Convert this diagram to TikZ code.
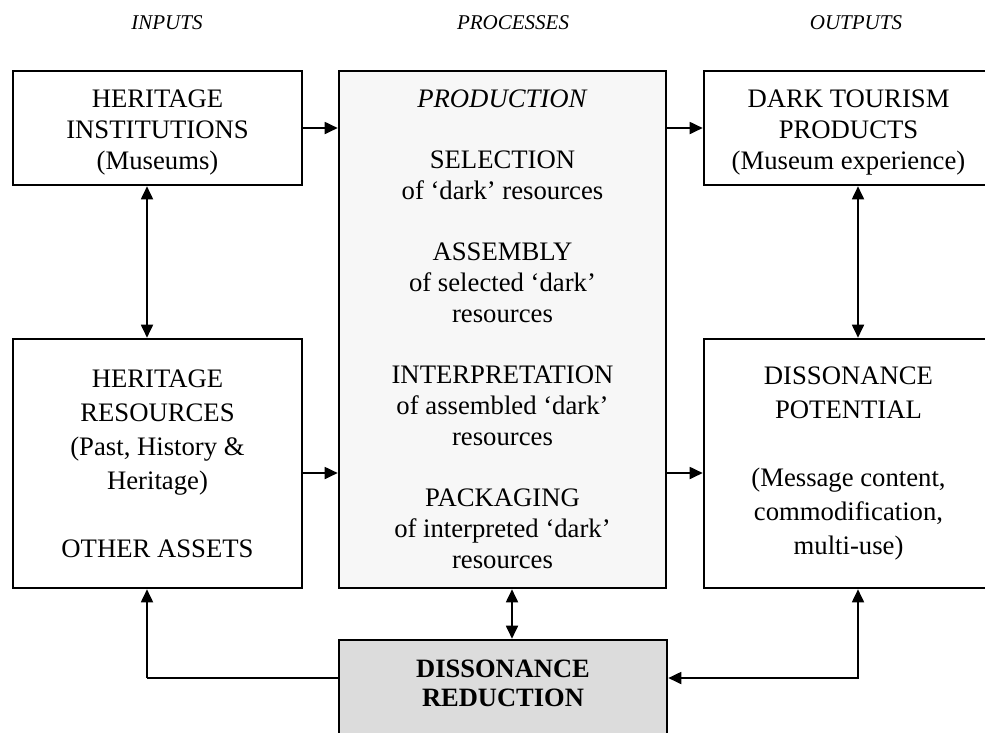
\documentclass[tikz,border=0pt]{standalone}
\usepackage{fontspec}
\setmainfont{Liberation Serif}
\usepackage{tikz}
\usetikzlibrary{positioning, calc, arrows.meta}

\begin{document}
\begin{tikzpicture}[
    x=1pt,y=-1pt,
    block/.style={draw, line width=2.6pt, rectangle, align=center, fill=white, font=\fontsize{26.7}{31}\selectfont},
    tallblock/.style={block, font=\fontsize{26.7}{34}\selectfont},
    heading/.style={font=\fontsize{21}{25}\selectfont\itshape},
    arr/.style={line width=1.8pt, -{Triangle[length=13pt,width=12pt]}},
    darr/.style={line width=1.8pt, {Triangle[length=13pt,width=12pt]}-{Triangle[length=13pt,width=12pt]}},
    plain/.style={line width=1.8pt}
]
    \useasboundingbox (0,0) rectangle (985,732);
    \clip (0,0) rectangle (985,732);

    % ================= HEADINGS =================
    \node[heading] (h_in) at (167, 23) {INPUTS};
    \node[heading] (h_proc) at (513, 23) {PROCESSES};
    \node[heading] (h_out) at (856, 23) {OUTPUTS};

    % ================= INPUTS =================
    \node[block, minimum width=289pt, minimum height=114pt] (HI) at (157.5, 128) {\rule{0pt}{26pt}HERITAGE\\INSTITUTIONS\\(Museums)};
    \node[tallblock, minimum width=289pt, minimum height=249pt] (HR) at (157.5, 463.5) {HERITAGE\\RESOURCES\\(Past, History \&\\Heritage)\\[34pt]OTHER ASSETS};

    % ================= PROCESSES =================
    \node[block, fill={rgb,255:red,247;green,247;blue,247}, minimum width=327pt, minimum height=517pt] (PROD) at (502.5, 329.5)
        {\textit{PRODUCTION}\\[30pt]
         SELECTION\\of `dark' resources\\[30pt]
         ASSEMBLY\\of selected `dark'\\resources\\[30pt]
         INTERPRETATION\\of assembled `dark'\\resources\\[30pt]
         PACKAGING\\of interpreted `dark'\\resources};
    \node[block, fill={rgb,255:red,220;green,220;blue,220}, minimum width=328pt, minimum height=96pt, font=\fontsize{26.5}{29.5}\selectfont\bfseries] (DR) at (503, 688) {DISSONANCE\\REDUCTION\rule[-10pt]{0pt}{10pt}};

    % ================= OUTPUTS =================
    \node[block, minimum width=289pt, minimum height=114pt] (DTP) at (848.5, 128) {\rule{0pt}{26pt}DARK TOURISM\\PRODUCTS\\(Museum experience)};
    \node[tallblock, minimum width=289pt, minimum height=249pt] (DP) at (848.5, 463.5) {DISSONANCE\\POTENTIAL\\[34pt](Message content,\\commodification,\\multi-use)};

    % ================= CONNECTIONS =================
    \coordinate (c_left) at (147, 678);
    \coordinate (c_right) at (858, 678);

    \draw[arr] (HI.east) -- (HI.east -| PROD.west);
    \draw[arr] (DTP.west -| PROD.east) -- (DTP.west);
    \draw[arr] ([yshift=-9.5pt]HR.east) -- ([yshift=-9.5pt]HR.east -| PROD.west);
    \draw[arr] ([yshift=-9.5pt]DP.west -| PROD.east) -- ([yshift=-9.5pt]DP.west);

    \draw[darr] (c_left |- HI.south) -- (c_left |- HR.north);
    \draw[darr] (c_right |- DTP.south) -- (c_right |- DP.north);
    \draw[darr] ([xshift=9.5pt]PROD.south) -- ([xshift=9.5pt]PROD.south |- DR.north);

    % feedback loops
    \draw[plain] (c_left -| DR.west) -- (c_left);
    \draw[arr] (c_left) -- (c_left |- HR.south);
    \draw[darr] (c_right |- DP.south) -- (c_right) -- (c_right -| DR.east);

\end{tikzpicture}
\end{document}
